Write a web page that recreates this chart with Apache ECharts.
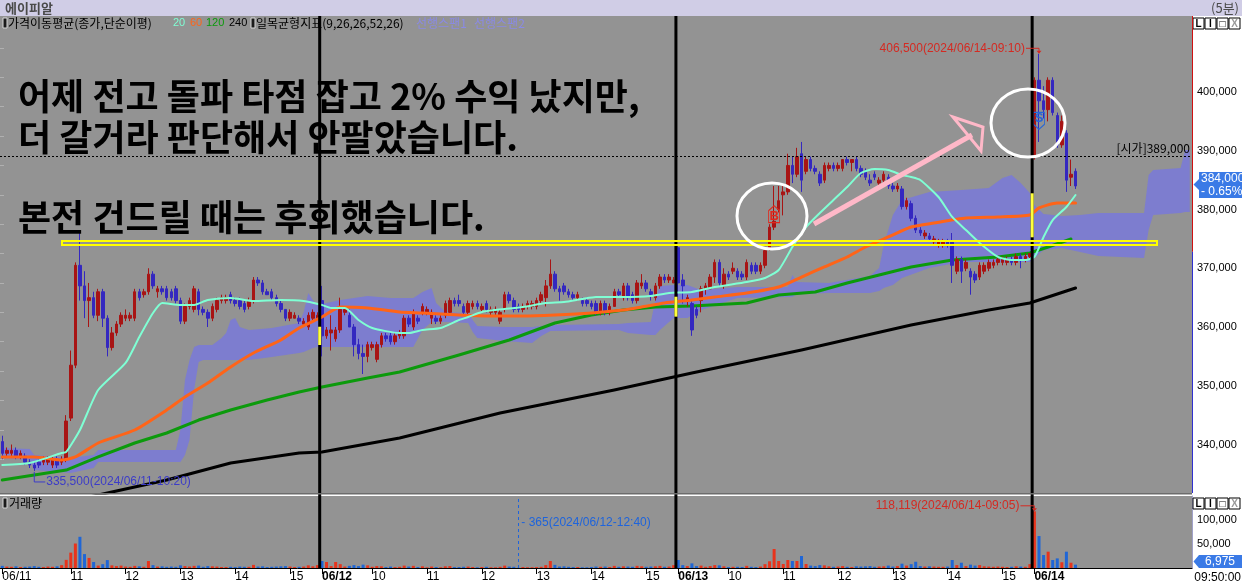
<!DOCTYPE html>
<html>
<head>
<meta charset="utf-8">
<title>에이피알 (5분)</title>
<script src="https://cdn.jsdelivr.net/npm/echarts@6.0.0/dist/echarts.min.js"></script>
<style>
html,body{margin:0;padding:0;background:#ffffff;overflow:hidden;}
#chart{width:1242px;height:587px;}
</style>
</head>
<body>
<div id="chart"></div>
<script>
// ---------------- data ----------------
const dayNames    = ['06/11','06/12','06/13','06/14'];
const dayFirstBar = ['09:45','09:05','09:05','09:05'];
const dayLastBar  = ['15:30','15:30','15:30','09:50'];
const futureSlots = 25;
const yearText = '2024';
const changePct = '- 0.65%';

const opens = [
340500,338500,338500,339000,338000,338000,337000,336500,337000,337000,
337000,336500,337500,337000,337500,344500,353500,370500,367000,364500,
365000,362000,366000,361500,356500,359000,360500,361500,361500,361500,
366000,365500,366000,369000,366000,366500,366500,366000,366500,364500,
361000,363500,363000,366000,363000,362500,361500,363000,364500,364500,
365500,364500,364500,364000,363500,364500,368000,367500,366000,366000,
365000,364000,363000,361500,361500,361500,360500,360000,361500,361500,
364500,358500,359000,358000,359500,362500,362000,360000,357000,355500,
355000,356500,354500,357000,358500,358500,357500,358500,358500,361500,
360000,361500,362500,362500,361500,361500,361000,362000,362500,364500,
364500,363500,362500,363500,364000,363000,364000,362500,362500,361000,
363000,365500,364500,363500,363000,363500,363500,363500,364500,365000,
367000,369000,366500,367000,366000,365500,365000,364500,364500,364000,
364000,362500,364000,362500,363500,366000,365000,367000,365500,364500,
367000,367500,366000,365000,367000,368500,368000,367500,
373500,368000,364500,364000,363000,364500,366500,366500,368500,371000,
367000,369000,369500,369500,369000,368500,370500,370500,369500,370500,
373500,377000,380000,382500,383000,387500,386000,389500,386500,388500,
387000,386000,385000,387000,387500,387000,387000,388500,388000,388500,
387000,386500,385000,386000,384500,385000,385500,384000,383500,383500,
380500,381000,378500,376500,375500,375500,374500,374000,374000,374500,
374500,369500,371500,370000,369500,369000,368500,369500,370000,370500,
371000,371000,371000,371500,371000,372000,371500,372000,
389000,402000,398500,397000,402000,396000,391000,393000,385500,386500];

const highs = [
341500,339500,340000,339500,339000,338500,337500,337000,337500,338000,
338000,338000,338000,338000,345000,356000,371000,376500,369500,367500,
366000,366500,366500,362000,360000,361000,362500,363000,362500,366500,
366500,366500,370000,369500,367000,367000,367000,366500,367000,365000,
364000,365000,367000,366500,363500,363000,364000,365000,365500,365500,
366000,365000,365000,364500,365000,368500,368500,368000,366500,366500,
365500,364500,363000,363000,362500,362000,361500,362500,363000,362500,
367000,360000,362000,360000,365000,363500,363000,360500,358000,357000,
357500,357500,357500,359000,359000,359000,359000,359500,362000,362000,
363000,362000,364000,363500,363000,362000,362000,364500,365000,365000,
365500,364000,364500,364500,364500,364000,364500,363500,363500,363000,
366000,366000,365000,364000,364000,364500,364500,365000,366000,368000,
371500,369500,367000,367500,366500,366000,366000,365000,365000,364500,
364500,364500,364500,364000,366500,366500,367500,367500,366000,368000,
369000,368000,366500,367500,369000,369000,369000,368500,
374000,369000,365500,364500,363500,367000,367500,369000,371500,371500,
370000,369500,371000,370000,369500,371500,371000,371000,371000,373500,
377500,384000,384000,384000,389500,389000,390500,391500,389000,389000,
387500,386500,388000,388000,388000,388000,388500,389000,388500,389000,
387500,387000,386000,386500,385500,386500,386000,384500,384500,384000,
382000,381500,379000,377000,376500,376000,375500,375000,375000,375000,
376000,372000,372000,371500,370000,369500,371000,371000,371500,371500,
372000,372000,372000,372000,372500,372500,372500,372500,
402500,406500,401000,402500,402500,396500,396000,393500,388500,387000];

const lows = [
337500,338000,338000,337500,337500,336500,336000,335500,336000,336500,
336500,336000,336000,336500,337000,344000,353000,364500,361500,360000,
361500,361000,360000,355000,356000,358500,360000,361000,361000,361000,
364500,365000,365500,366500,365000,365500,364500,364500,364000,360500,
360500,363000,362500,362000,362000,360000,361000,362500,364000,364000,
364000,363500,363000,362500,363000,364000,367000,365500,365500,364500,
363500,362500,361000,361000,361500,360500,360000,359500,361000,361500,
355000,358000,356000,357500,359000,362000,360000,355000,354500,352000,
354000,356000,354000,356500,357500,357000,357000,358000,358000,360000,
359500,360500,362000,362000,360500,360500,360500,361500,362000,363500,
363500,362000,362000,363000,363000,362500,362500,362000,362000,360500,
362500,364000,362500,362500,362500,363000,363000,363000,364000,363500,
366500,366000,364500,365500,365000,364500,364500,363500,363500,363000,
362000,362000,362000,362000,363500,365000,364500,364500,364000,364000,
366500,366000,364500,364500,366500,367500,367500,367500,
364500,364000,363500,358500,361500,362500,365500,366500,367500,367000,
366500,368000,369000,368000,368000,368000,369000,369000,369000,370000,
373000,376500,379500,379000,382500,384500,385500,383000,386000,386500,
386000,384000,384500,386500,386500,386500,386500,387500,386500,386500,
385500,385000,384000,385000,384000,384500,383500,383000,383000,380000,
380000,378000,376000,375500,375000,374500,374000,373500,373500,373500,
367500,369000,367500,369500,365500,367500,368000,369000,369500,370000,
370500,370500,370500,370500,370500,370000,371000,371500,
388500,391500,395500,395000,396000,390500,390500,383000,384000,383500];

const closes = [
338500,339000,339000,338000,338500,337000,336500,336000,336500,337500,
337500,337500,336500,337500,344000,353500,370500,367000,364500,365000,
362000,366000,361500,356500,359000,360500,362000,362000,362000,366000,
365000,366000,369000,367000,366500,366000,365000,365000,364500,361000,
363500,364500,366500,363000,362500,361500,363500,364500,365000,365000,
364500,364000,363500,363000,364500,368000,367500,366000,365500,365000,
364000,363000,361500,362500,362000,361000,361000,362000,362500,362000,
358500,359500,359500,359500,363000,363000,360000,357000,355500,355000,
357000,357000,357000,358500,358000,357500,358500,359000,361500,360500,
362500,361000,363500,363000,362500,361000,361500,364000,364500,364000,
364000,362500,364000,364000,363500,363500,363000,363000,363000,362500,
365500,364500,363000,363000,363500,364000,364000,364500,365500,367000,
369000,366500,366000,366000,365500,365000,365500,364000,364000,363500,
362500,364000,362500,363500,366000,365500,367000,365000,364500,367500,
367500,366500,365500,367000,368500,368000,368500,368000,
367500,367000,365000,359500,362000,366500,367000,368500,371000,367500,
369000,368500,370000,368500,368500,371000,369500,369500,370500,373000,
377000,378000,381500,383000,387500,386000,389000,385000,388500,387000,
386500,384500,387500,387500,387000,387500,388500,388000,388500,387000,
386000,385500,384500,385500,385000,386000,384000,383500,384000,380500,
381500,378500,376500,376000,376000,375000,375000,374500,374500,374000,
370500,371500,369500,371000,368500,368000,370500,370500,371000,371000,
371500,371500,371500,371000,372000,371500,372000,372500,
402000,398500,397000,402000,396500,391000,395000,385000,386000,384000];

const volumes = [
4500,3000,2500,3500,2000,2500,3000,4000,2500,2000,
3000,2500,3500,6000,17000,32000,51000,65000,29000,21000,
12500,5000,8000,16500,5500,4000,5000,3000,2500,4500,
3500,2500,14500,6000,3000,3500,2500,3000,2500,5500,
4000,3000,4500,5000,2500,4000,3500,3000,2000,2000,
2500,2000,3000,2500,2500,6500,3000,3500,2000,2500,
3000,3500,4000,3000,2000,2500,3000,5500,3500,6000,
14600,12500,4000,12500,8000,3000,4500,6000,4000,7000,
5500,2500,4000,3500,2000,3000,2000,2500,5000,3000,
4500,2000,3500,1500,3000,2000,1500,3500,4000,2000,
2000,2500,3000,2000,1500,2000,2500,1500,1500,2500,
5000,3000,2500,365,2000,1500,1500,2000,2500,6000,
14600,6500,3000,3500,2500,2000,2000,1500,1500,2000,
3000,2500,3000,2000,4500,2500,3500,3000,2500,4500,
3500,2500,3000,3500,4500,2500,3000,6000,
16700,6000,4000,9700,4000,5000,2500,4000,6000,5500,
3500,2000,2500,2500,2000,4500,2500,2000,3000,8000,
14000,39600,14600,8300,16700,14600,14600,25000,8300,5000,
4000,6000,5500,3500,2500,3000,4000,2500,2000,3500,
3000,3500,4000,2500,3000,3500,5000,3000,4000,9000,
5000,8000,13000,4000,3000,3500,3000,2500,2500,3000,
16700,6000,11000,4000,7000,5000,6000,3500,3000,2500,
3000,2500,2000,2500,3500,3000,2500,8000,
118119,66600,27000,34000,16700,20000,12000,34000,11000,6975];

// moving averages: [bar index, value]
const ma20 = [[0,336520],[6,336860],[13,338560],[14,338730],[17,342470],[21,349280],[27,353880],[30,358300],[33,362390],[35,364090],[39,363750],[42,363750],[45,364600],[50,364940],[55,364430],[61,364600],[66,364430],[70,363750],[72,363240],[75,363240],[78,361190],[81,359830],[87,358980],[89,358980],[92,359490],[96,359830],[100,361190],[102,361700],[105,362560],[108,362900],[114,363410],[119,364090],[123,364260],[127,364770],[130,365110],[136,365110],[142,365280],[146,365790],[151,365960],[156,366810],[163,367660],[167,368340],[170,369700],[173,373620],[176,377020],[179,379410],[182,381620],[185,383830],[188,386210],[191,386890],[194,386720],[197,385870],[199,385530],[201,385020],[205,382130],[208,378730],[211,376510],[214,374300],[218,371920],[221,371410],[224,371410],[226,371920],[228,375330],[230,378210],[233,380430],[235,382470]];
const ma60 = [[0,337880],[7,337880],[13,337370],[16,337880],[21,340260],[29,342470],[36,345880],[40,348090],[45,350470],[50,353200],[55,355580],[61,357790],[65,359830],[70,361700],[74,363410],[80,363240],[87,362560],[92,362390],[100,362050],[107,361880],[114,361880],[121,362050],[129,362390],[136,362900],[140,363410],[145,364090],[151,364600],[156,365110],[163,365790],[170,366810],[175,368510],[180,370220],[185,371920],[189,373620],[194,375330],[199,377020],[204,377700],[211,378550],[218,378730],[225,379070],[227,380260],[231,381110],[235,381110]];
const ma120 = [[0,333960],[7,334810],[14,335660],[21,337880],[29,340260],[36,341960],[43,344170],[50,345880],[58,347580],[65,348940],[70,349790],[80,351320],[87,352340],[100,355240],[111,357790],[121,360680],[129,362050],[136,362900],[143,363410],[151,363580],[163,364090],[170,365450],[178,365960],[185,367490],[192,368850],[199,370220],[208,371410],[218,371920],[225,372600],[229,373620],[234,374980]];
const ma240 = [[19,331070],[23,331750],[36,333960],[50,336850],[65,338560],[70,338730],[87,341110],[109,345370],[134,349280],[151,352170],[175,356090],[199,360340],[216,362900],[225,364090],[235,366640]];

// ichimoku cloud edges
const cloudIdx   = [0,6,7,15,20,21,38,39,40,41,42,43,44,46,48,49,50,51,52,54,59,65,66,67,68,69,74,80,85,90,92,94,95,97,102,103,104,110,116,118,120,135,137,142,143,144,147,150,153,161,172,173,174,181,190,192,193,195,197,203,210,216,219,221,223,225,226,228,232,236,240,250,251,252,258,259,260];
const cloudUpper = [339410,339240,338220,337710,338220,339070,339070,342470,350980,354400,356600,356940,356940,356940,358130,358980,361190,361530,360000,359510,359830,360680,362560,365790,364600,363750,364600,365280,364940,364940,365960,366640,364090,362560,362390,361190,360170,360000,360000,360170,360340,360510,360680,360850,364600,366980,367150,367150,366300,366810,366810,368850,367660,367490,368680,370040,373960,379070,381620,382980,383320,383660,385360,385870,384510,382810,380770,379240,378900,379070,379410,379410,385870,386720,387060,390130,390130];
const cloudLower = [337700,337370,335660,335150,336000,337030,337030,337030,338220,340770,349280,354050,354390,354390,354390,354390,354390,354390,354390,354390,354900,355580,355750,356090,356430,356600,356600,356600,356600,356600,359490,360850,360850,360850,360680,359150,358130,357620,357280,358470,359320,359490,358980,358640,358640,359490,361530,361530,362900,364940,365110,365110,365620,365790,365790,366130,366640,367150,368340,370040,371070,371070,371070,371070,371070,371070,371750,373110,373450,372770,372090,371750,376510,379070,379410,379580,379580];

// buy / sell signals
const signalIdx   = [169, 227];
const signalPrice = [379200, 395100];
const signalType  = ['B', 'S'];

// yellow marks at day changes
const gapIdx  = [69, 147, 225];
const gapHigh = [360050, 365160, 382760];
const gapLow  = [356940, 361760, 375270];

// ---------------- helpers ----------------
const FONT = '"Liberation Sans", Arial, sans-serif';
const KFONT = '"Noto Sans CJK KR", "Noto Sans", sans-serif';
const UP = '#a81414', DOWN = '#3428c0';
const VUP = '#e8341c', VDOWN = '#1f66d6';
const MAIN_TOP = 16, MAIN_H = 477, VOL_TOP = 496, VOL_H = 72, PLOT_W = 1192;
const fmtNum = v => Math.round(v).toLocaleString('en-US');
const pad2 = n => String(n).padStart(2, '0');
const toMin = t => { const p = t.split(':').map(Number); return p[0] * 60 + p[1]; };

const cats = [];
dayNames.forEach((d, k) => {
  for (let m = toMin(dayFirstBar[k]); m <= toMin(dayLastBar[k]); m += 5) {
    cats.push(d + ' ' + pad2(Math.floor(m / 60)) + ':' + pad2(m % 60));
  }
});
const nBars = cats.length;
for (let k = 0; k < futureSlots; k++) cats.push('');

const dayOf = i => cats[i] ? cats[i].split(' ')[0] : '';
const isDateStart = i => i === 0 || (cats[i] && dayOf(i) !== dayOf(i - 1));
const labelText = cats.map((c, i) => {
  if (!c) return '';
  if (i === 0) return dayOf(i);
  if (isDateStart(i)) return '{b|' + dayOf(i) + '}';
  const t = c.split(' ')[1];
  if (t.endsWith(':00')) {
    for (let k = 1; k < 6; k++) if (i - k >= 0 && isDateStart(i - k)) return '';
    return t.slice(0, 2);
  }
  return '';
});
const labelShow = (idx) => labelText[idx] !== '';
const sepIdx = [];
for (let i = 1; i < nBars; i++) if (isDateStart(i)) sepIdx.push(i - 1);
const stamp = i => yearText + '/' + cats[i].replace(' ', '-');
const argMax = a => a.reduce((b, v, i) => v > a[b] ? i : b, 0);
const argMin = a => a.reduce((b, v, i) => v < a[b] ? i : b, 0);
const todayOpenIdx = sepIdx[sepIdx.length - 1] + 1;

const candleData = opens.map((o, i) => [o, closes[i], lows[i], highs[i]]);
const volData = volumes.map((v, i) => ({ value: v, itemStyle: { color: closes[i] >= opens[i] ? VUP : VDOWN } }));
const volMinIdx = argMin(volumes);

const chart = echarts.init(document.getElementById('chart'), null, { renderer: 'canvas' });

const maLine = (name, data, color, width, z, smooth) => ({
  type: 'line', name: name, xAxisIndex: 0, yAxisIndex: 0, z: z, data: data,
  showSymbol: false, symbol: 'none', silent: true, smooth: smooth,
  lineStyle: { color: color, width: width, join: 'round', cap: 'round' }
});

const option = {
  animation: false,
  backgroundColor: '#ffffff',
  grid: [
    { left: 0, top: MAIN_TOP, width: PLOT_W, height: MAIN_H, show: true, backgroundColor: '#939393', borderWidth: 0, outerBoundsMode: 'none', containLabel: false },
    { left: 0, top: VOL_TOP, width: PLOT_W, height: VOL_H, show: true, backgroundColor: '#939393', borderWidth: 0, outerBoundsMode: 'none', containLabel: false },
    { left: 0, top: 92, width: PLOT_W, height: 352.5, show: false, outerBoundsMode: 'none', containLabel: false },
    { left: 0, top: 47.93, width: PLOT_W, height: 411.27, show: false, outerBoundsMode: 'none', containLabel: false }
  ],
  xAxis: [
    { type: 'category', gridIndex: 0, data: cats, boundaryGap: true, show: false },
    { type: 'category', gridIndex: 1, data: cats, boundaryGap: true,
      axisLine: { show: true, lineStyle: { color: '#000', width: 1 } },
      axisTick: { show: true, alignWithLabel: true, interval: labelShow, length: 6, lineStyle: { color: '#000' } },
      axisLabel: { show: true, interval: labelShow, hideOverlap: false, formatter: (v, i) => labelText[i], align: 'left', margin: 3,
        color: '#000', fontSize: 12, fontFamily: FONT,
        rich: { b: { fontWeight: 'bold', fontSize: 12, fontFamily: FONT, color: '#000' } } },
      splitLine: { show: false } },
    { type: 'value', gridIndex: 2, show: false, min: 0, max: 1 },
    { type: 'value', gridIndex: 3, show: false, min: 0, max: 1 }
  ],
  yAxis: [
    { type: 'value', gridIndex: 0, min: 331750, max: 412935, show: false },
    { type: 'value', gridIndex: 1, min: 0, max: 150000, interval: 50000, position: 'right',
      axisLine: { show: true, lineStyle: { color: '#a0a0c8' } }, axisTick: { show: false }, splitLine: { show: false },
      axisLabel: { formatter: v => (v === 50000 || v === 100000) ? fmtNum(v) : '', margin: 5, color: '#000', fontSize: 11, fontFamily: FONT } },
    { type: 'value', gridIndex: 2, min: 340000, max: 400000, interval: 10000, position: 'right',
      axisLine: { show: false }, axisTick: { show: false }, splitLine: { show: false },
      axisLabel: { formatter: v => fmtNum(v), margin: 5, color: '#000', fontSize: 11, fontFamily: FONT, showMinLabel: true, showMaxLabel: true } },
    { type: 'value', gridIndex: 3, min: 337500, max: 407500, interval: 5000, position: 'right',
      axisLine: { show: false }, axisTick: { show: true, length: 4, lineStyle: { color: '#b0b0b0' } },
      axisLabel: { show: false }, splitLine: { show: false } }
  ],
  series: [
    { type: 'custom', name: 'cloud', xAxisIndex: 0, yAxisIndex: 0, z: 1, silent: true, clip: true,
      data: cloudIdx.map((x, k) => [x, cloudUpper[k], cloudLower[k]]),
      encode: { x: 0, y: [1, 2] },
      renderItem: (params, api) => {
        if (params.dataIndex !== 0) return null;
        const pts = [];
        for (let k = 0; k < cloudIdx.length; k++) pts.push(api.coord([cloudIdx[k], cloudUpper[k]]));
        for (let k = cloudIdx.length - 1; k >= 0; k--) pts.push(api.coord([cloudIdx[k], cloudLower[k]]));
        return { type: 'polygon', shape: { points: pts }, style: { fill: '#7d7dcf' } };
      } },
    maLine('MA120', ma120, '#0c9a0c', 3, 2, false),
    { type: 'candlestick', name: 'price', xAxisIndex: 0, yAxisIndex: 0, z: 3, barWidth: 3, silent: true,
      data: candleData,
      itemStyle: { color: UP, color0: DOWN, borderColor: UP, borderColor0: DOWN, borderWidth: 1 },
      markLine: { silent: true, symbol: ['none', 'none'], animation: false,
        data: [{ yAxis: opens[todayOpenIdx] }],
        lineStyle: { color: '#000', type: [2, 2], width: 1 },
        label: { show: true, position: 'insideEndTop', formatter: p => '[시가]' + fmtNum(p.value), color: '#000', fontSize: 12, fontFamily: KFONT, distance: 2 } },
      markPoint: { silent: true, animation: false,
        data: signalIdx.map((x, k) => {
          const isB = signalType[k] === 'B';
          const col = isB ? '#e0281c' : '#2466d8';
          return {
            coord: [x, signalPrice[k]],
            symbol: isB ? 'path://M5,0 L10,5 L10,17 L0,17 L0,5 Z' : 'path://M0,0 L10,0 L10,12 L5,17 L0,12 Z',
            symbolSize: [11, 17], symbolKeepAspect: false,
            itemStyle: { color: 'rgba(0,0,0,0)', borderColor: col, borderWidth: 1 },
            label: { show: true, position: 'inside', formatter: signalType[k], color: col, fontSize: 13, fontWeight: 'bold', fontFamily: FONT, offset: [0, isB ? 2 : -2] }
          };
        }) } },
    maLine('MA60', ma60, '#ff6418', 3, 4, 0.2),
    maLine('MA240', ma240, '#000000', 3, 4, false),
    maLine('MA20', ma20, '#7fffd4', 2, 5, 0.2),
    { type: 'bar', name: 'volume', xAxisIndex: 1, yAxisIndex: 1, z: 2, barWidth: 3, silent: true, data: volData,
      markLine: { silent: true, symbol: ['none', 'none'], animation: false, data: [{ xAxis: volMinIdx }],
        lineStyle: { color: '#1e64dc', type: [3, 3], width: 1 }, label: { show: false } } },
    { type: 'custom', name: 'daySep', xAxisIndex: 0, yAxisIndex: 0, z: 8, silent: true, clip: false,
      data: sepIdx.map(v => [v, 400000]), encode: { x: 0, y: 1 },
      renderItem: (params, api) => {
        const cs = params.coordSys;
        const x = api.coord([api.value(0), 400000])[0] + api.size([1, 0])[0] / 2;
        return { type: 'rect', shape: { x: x - 1.5, y: cs.y, width: 3, height: (VOL_TOP + VOL_H) - cs.y }, style: { fill: '#000' } };
      } },
    { type: 'custom', name: 'gap', xAxisIndex: 0, yAxisIndex: 0, z: 9, silent: true, clip: false,
      data: gapIdx.map((v, k) => [v, gapHigh[k], gapLow[k]]), encode: { x: 0, y: [1, 2] },
      renderItem: (params, api) => {
        const p1 = api.coord([api.value(0), api.value(1)]);
        const p2 = api.coord([api.value(0), api.value(2)]);
        const x = p1[0] + api.size([1, 0])[0] / 2;
        return { type: 'rect', shape: { x: x - 1.5, y: p1[1], width: 3, height: p2[1] - p1[1] }, style: { fill: '#ffff3c' } };
      } }
  ]
};
chart.setOption(option);

// ---------------- overlays ----------------
const P = (i, v) => chart.convertToPixel({ xAxisIndex: 0, yAxisIndex: 0 }, [i, v]);
const PV = (i, v) => chart.convertToPixel({ xAxisIndex: 1, yAxisIndex: 1 }, [i, v]);
const T = (text, x, y, fill, font, align, extra) => Object.assign({ type: 'text', z: 60, silent: true,
  style: { text: text, x: x, y: y, fill: fill, font: font, textAlign: align || 'left', textVerticalAlign: 'middle' } }, extra || {});
const R = (x, y, w, h, fill, extra) => Object.assign({ type: 'rect', z: 55, silent: true, shape: { x: x, y: y, width: w, height: h }, style: { fill: fill } }, extra || {});
const L = (pts, stroke, w, z) => ({ type: 'polyline', z: z || 60, silent: true, shape: { points: pts }, style: { stroke: stroke, lineWidth: w, fill: null } });

const F11 = '11px ' + FONT, F12 = '12px ' + FONT, K12 = '12px ' + KFONT;
const G = [];
// title bar
G.push(R(0, 0, 1242, 16, '#d0cde6'));
G.push(T('에이피알', 5, 8.5, '#4a4a4a', 'bold 13px ' + KFONT));
G.push(T('(5분)', 1239, 8.5, '#4a4a4a', '13px ' + KFONT, 'right'));
// separator between panels
G.push(R(0, 493, PLOT_W, 1.4, '#6c6c6c'));
// legend row
G.push(R(3, 18, 4, 10, '#1a1a1a', { style: { fill: '#1a1a1a', stroke: '#d8d8d8', lineWidth: 1 } }));
G.push(T('가격이동평균(종가,단순이평)', 8, 23, '#000', K12));
G.push(T('20', 173, 23, '#7fffd4', F11));
G.push(T('60', 190, 23, '#ff6418', F11));
G.push(T('120', 206, 23, '#0c9a0c', F11));
G.push(T('240', 229, 23, '#000', F11));
G.push(R(251, 18, 4, 10, '#1a1a1a', { style: { fill: '#1a1a1a', stroke: '#d8d8d8', lineWidth: 1 } }));
G.push(T('일목균형지표(9,26,26,52,26)', 256, 23, '#000', K12));
G.push(T('선행스팬1', 416, 23, '#8a8ae6', K12));
G.push(T('선행스팬2', 474, 23, '#8a8ae6', K12));
// volume panel label
G.push(R(3, 498, 4, 10, '#1a1a1a', { style: { fill: '#1a1a1a', stroke: '#d8d8d8', lineWidth: 1 } }));
G.push(T('거래량', 9, 503.5, '#000', K12));
// panel buttons
[18, 498].forEach(y0 => {
  ['L', 'I', '□', 'X'].forEach((g, k) => {
    G.push(R(1193 + k * 12, y0, 11, 11, '#fff', { style: { fill: '#fff', stroke: '#000', lineWidth: 1 } }));
    G.push(T(g, 1198.5 + k * 12, y0 + 6, k === 3 ? '#9a9a9a' : '#000', 'bold 10px ' + FONT, 'center'));
  });
});
// right axis line of price panel
const splitY = P(0, 372800)[1];
G.push(L([[1192.5, MAIN_TOP], [1192.5, splitY]], '#d01010', 1, 56));
G.push(L([[1192.5, splitY], [1192.5, MAIN_TOP + MAIN_H]], '#3030d0', 1, 56));
// current price box
const last = nBars - 1;
const cp = P(last, closes[last]);
const cy = cp[1];
G.push({ type: 'polygon', z: 58, silent: true, shape: { points: [[1193.5, cy - 1.5], [1199, cy - 7], [1199, cy - 14], [1242, cy - 14], [1242, cy + 12], [1199, cy + 12], [1199, cy + 4]] }, style: { fill: '#3a7ae6' } });
G.push(T(fmtNum(closes[last]), 1201, cy - 7, '#fff', F12));
G.push(T(changePct, 1201, cy + 5.5, '#fff', F12));
// current volume box
const vy = 561.5;
G.push({ type: 'polygon', z: 58, silent: true, shape: { points: [[1193.5, vy], [1199, vy - 6.5], [1242, vy - 6.5], [1242, vy + 6.5], [1199, vy + 6.5]] }, style: { fill: '#3a7ae6' } });
G.push(T(fmtNum(volumes[last]), 1205, vy, '#fff', F12));
// bottom right time
G.push(T('09:50:00', 1241, 577.5, '#000', F12, 'right'));
// high label
const hi = argMax(highs), hp = P(hi, highs[hi]);
G.push(T(fmtNum(highs[hi]) + '(' + stamp(hi) + ')', hp[0] - 14, hp[1] - 5.5, '#d42a22', F12, 'right'));
G.push(L([[hp[0] - 13, hp[1] - 5.5], [hp[0], hp[1] - 5.5], [hp[0], hp[1] - 1]], '#d42a22', 1));
G.push({ type: 'polygon', z: 60, silent: true, shape: { points: [[hp[0] - 2.5, hp[1] - 3], [hp[0] + 2.5, hp[1] - 3], [hp[0], hp[1]]] }, style: { fill: '#d42a22' } });
// low label
const lo = argMin(lows), lp = P(lo, lows[lo]);
G.push(L([[lp[0], lp[1] + 1], [lp[0], lp[1] + 11], [lp[0] + 11, lp[1] + 11]], '#3c3cc8', 1));
G.push(T(fmtNum(lows[lo]) + '(' + stamp(lo) + ')', lp[0] + 12, lp[1] + 11, '#3c3cc8', F12));
// volume max label
const vmax = argMax(volumes), vp = PV(vmax, volumes[vmax]);
G.push(T(fmtNum(volumes[vmax]) + '(' + stamp(vmax) + ')', vp[0] - 15, vp[1] - 5.5, '#d42a22', F12, 'right'));
G.push(L([[vp[0] - 14, vp[1] - 5.5], [vp[0], vp[1] - 5.5], [vp[0], vp[1] - 1]], '#d42a22', 1));
G.push({ type: 'polygon', z: 60, silent: true, shape: { points: [[vp[0] - 2.5, vp[1] - 3], [vp[0] + 2.5, vp[1] - 3], [vp[0], vp[1]]] }, style: { fill: '#d42a22' } });
// volume min label
const vmp = PV(volMinIdx, volumes[volMinIdx]);
G.push(T('- ' + fmtNum(volumes[volMinIdx]) + '(' + stamp(volMinIdx) + ')', vmp[0] + 3, VOL_TOP + 27, '#1e64dc', F12));

// hand drawn annotations
const BIG = 'bold 36px ' + KFONT;
const bigStyle = { z: 70 };
G.push(T('어제 전고 돌파 타점 잡고 2% 수익 났지만,', 18, 96, '#000', BIG, 'left', bigStyle));
G.push(T('더 갈거라 판단해서 안팔았습니다.', 18, 137, '#000', BIG, 'left', bigStyle));
G.push(T('본전 건드릴 때는 후회했습니다.', 18, 217, '#000', BIG, 'left', bigStyle));
G.push({ type: 'rect', z: 65, silent: true, shape: { x: 62, y: 241, width: 1095, height: 4 }, style: { fill: null, stroke: '#ffff00', lineWidth: 2 } });
G.push({ type: 'ellipse', z: 66, silent: true, shape: { cx: 772, cy: 216, rx: 35, ry: 33 }, style: { fill: null, stroke: '#ffffff', lineWidth: 3 } });
G.push({ type: 'ellipse', z: 66, silent: true, shape: { cx: 1028, cy: 123, rx: 37, ry: 34 }, style: { fill: null, stroke: '#ffffff', lineWidth: 3 } });
G.push(L([[814, 224], [972, 135]], '#ffb8c8', 5, 66));
G.push({ type: 'polygon', z: 66, silent: true, shape: { points: [[953, 117], [983, 127], [981, 151]] }, style: { fill: null, stroke: '#ffb8c8', lineWidth: 3 } });

chart.setOption({ graphic: G });
</script>
</body>
</html>
